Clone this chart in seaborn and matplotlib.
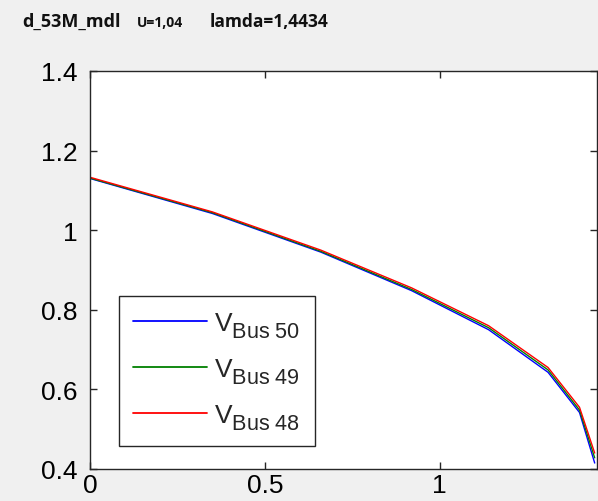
import numpy as np
import pandas as pd
import matplotlib
matplotlib.use("Agg")
import matplotlib.pyplot as plt
import matplotlib._mathtext as mtext
import seaborn as sns

# Continuation parameter (load factor) and bus voltages along the PV curve
lam = [0.0, 0.35, 0.66, 0.92, 1.14, 1.31, 1.40, 1.4434]
v_bus50 = [1.130, 1.042, 0.945, 0.848, 0.750, 0.643, 0.542, 0.415]
v_bus49 = [1.131, 1.044, 0.947, 0.851, 0.755, 0.649, 0.548, 0.428]
v_bus48 = [1.133, 1.046, 0.950, 0.855, 0.760, 0.655, 0.555, 0.440]

series_names = ["Bus 50", "Bus 49", "Bus 48"]
series_colors = ["#0000ff", "#008000", "#ff0000"]

x_ticks = [0, 0.5, 1]
y_ticks = [0.4, 0.6, 0.8, 1.0, 1.2, 1.4]
x_tick_labels = ["0", "0.5", "1"]
y_tick_labels = ["0.4", "0.6", "0.8", "1", "1.2", "1.4"]

df = pd.concat([
    pd.DataFrame({"lambda": lam, "V": v, "bus": name})
    for v, name in zip([v_bus50, v_bus49, v_bus48], series_names)
])

sns.set_theme(style="ticks")
plt.rcParams["font.family"] = ["Liberation Sans", "DejaVu Sans"]
plt.rcParams["mathtext.fontset"] = "custom"
plt.rcParams["mathtext.rm"] = "Liberation Sans"
plt.rcParams["mathtext.it"] = "Liberation Sans"
# larger, deeper subscripts for the legend labels
mtext.SHRINK_FACTOR = 0.82
mtext.FontConstantsBase.sub1 = 0.5
mtext.FontConstantsBase.sub2 = 0.6

bg = "#f0f0f0"
fig = plt.figure(figsize=(5.98, 5.02), dpi=100, facecolor=bg)
ax = fig.add_axes([90 / 598, 1 - 470 / 502, 507 / 598, 398 / 502])
ax.set_facecolor("white")

sns.lineplot(data=df, x="lambda", y="V", hue="bus", hue_order=series_names,
             palette=series_colors, linewidth=1.0, ax=ax, legend=False,
             sort=False)

ax.set_xlim(0, 1.45)
ax.set_ylim(0.4, 1.4)
ax.set_xticks(x_ticks)
ax.set_xticklabels(x_tick_labels)
ax.set_yticks(y_ticks)
ax.set_yticklabels(y_tick_labels)
ax.set_xlabel("")
ax.set_ylabel("")
ax.tick_params(direction="in", length=5, width=1, colors="#262626",
               labelsize=19, labelcolor="black", top=True, right=True)
ax.tick_params(axis="x", pad=3)
ax.tick_params(axis="y", pad=9)
for sp in ax.spines.values():
    sp.set_color("#262626")
    sp.set_linewidth(1.0)

handles = [plt.Line2D([], [], color=c, linewidth=1.3) for c in series_colors]
labels = [r"$V_{\mathrm{%s}}$" % n.replace(" ", r"\ ") for n in series_names]
leg = ax.legend(handles, labels, loc="lower left",
                bbox_to_anchor=(0.057, 0.058), fontsize=19,
                handlelength=2.8, handletextpad=0.27, labelspacing=0.65,
                borderpad=0.55, borderaxespad=0.0, frameon=True,
                fancybox=False, framealpha=1)
leg.get_frame().set_edgecolor("#262626")
leg.get_frame().set_linewidth(1.0)

# Header line
hdr_font = ["Open Sans", "DejaVu Sans"]
fig.text(22 / 598, 1 - 27 / 502, "d_53M_mdl", fontsize=13, fontweight="bold",
         family=hdr_font, va="baseline", color="#111111")
fig.text(137 / 598, 1 - 27 / 502, "U=1,04", fontsize=10, fontweight="bold",
         family=hdr_font, va="baseline", color="#111111")
fig.text(210 / 598, 1 - 27 / 502, "lamda=1,4434", fontsize=12.5,
         fontweight="bold", family=hdr_font, va="baseline", color="#111111")

fig.savefig("out.png", dpi=100, facecolor=bg)
